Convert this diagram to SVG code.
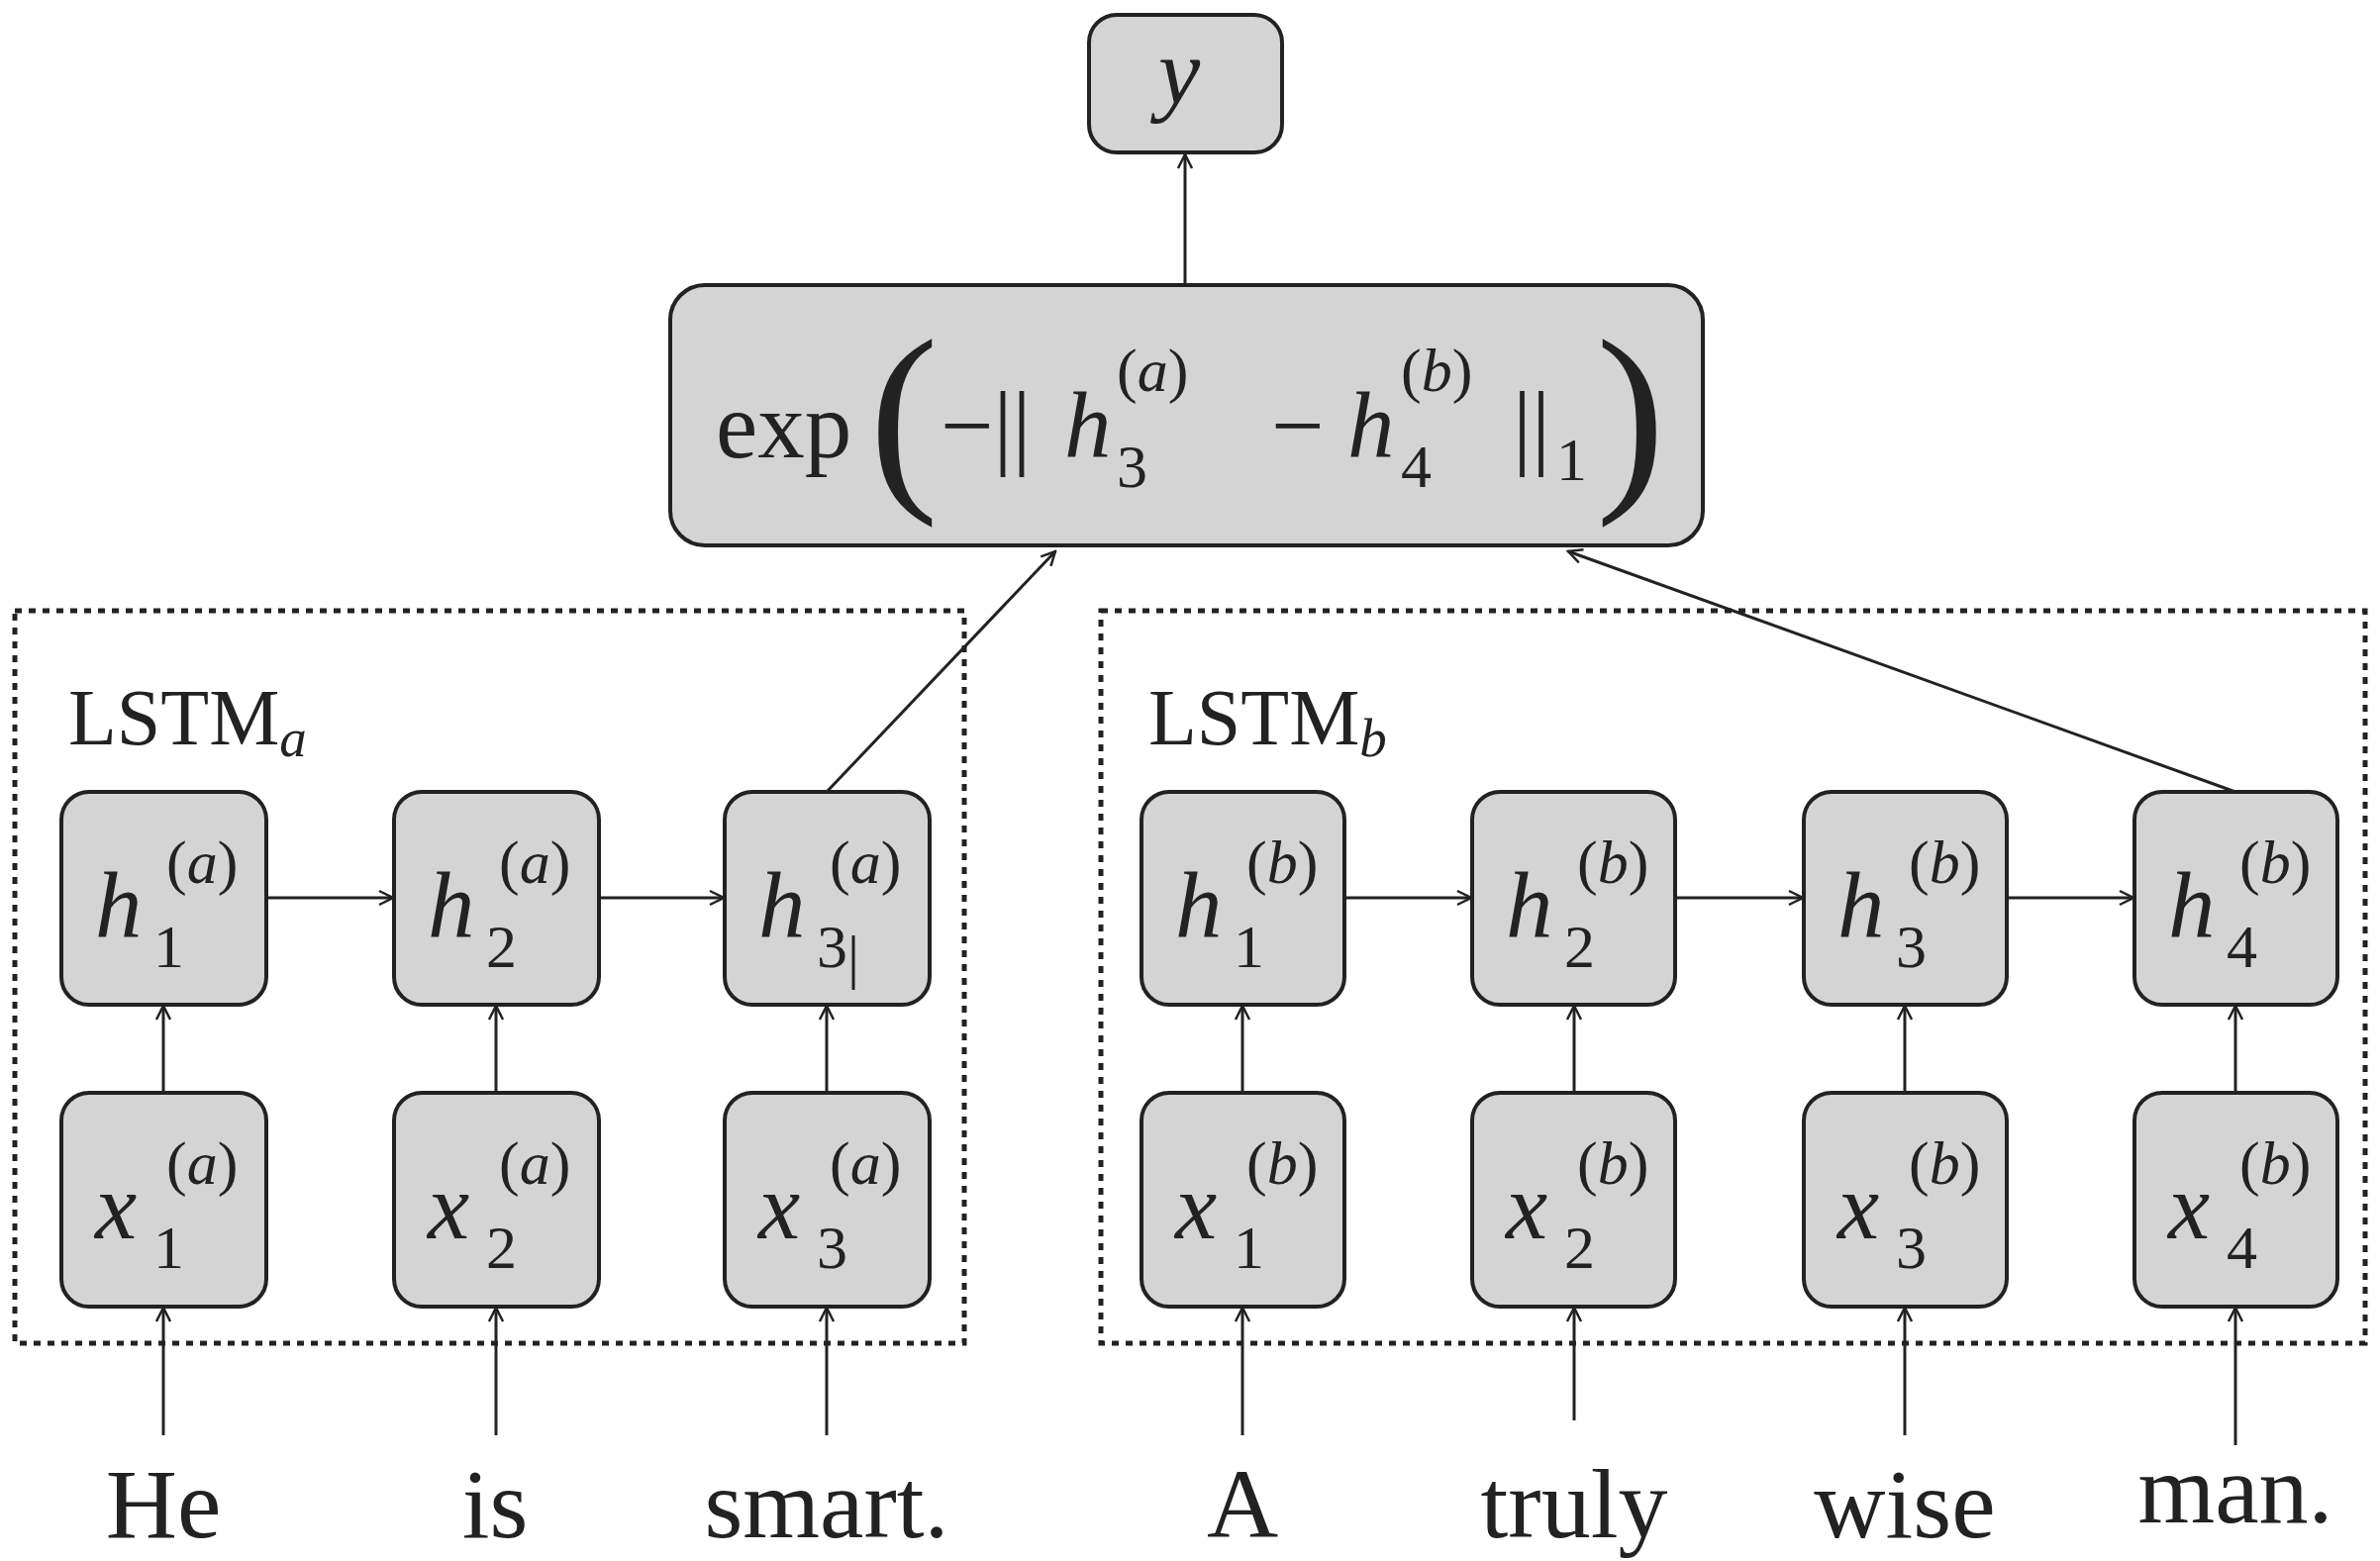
<svg xmlns="http://www.w3.org/2000/svg" width="2404" height="1577" viewBox="0 0 2404 1577">
<style>
.n{fill:#d4d4d4;stroke:#222;stroke-width:4}
.t{font-family:"Liberation Serif",serif;fill:#222}
.i{font-style:italic}
.c{stroke:#222;stroke-width:3;fill:none}
.d{fill:none;stroke:#222;stroke-width:5;stroke-dasharray:7,7}
</style>
<defs><marker id="a" markerWidth="20" markerHeight="20" refX="18" refY="10" orient="auto" markerUnits="userSpaceOnUse"><path d="M4,3 L18,10 L4,17" fill="none" stroke="#222" stroke-width="2.5"/></marker></defs>
<rect width="2404" height="1577" fill="#fff"/>
<g id="boxes"><rect class="d" x="15" y="617" width="959" height="740"/><rect class="d" x="1112" y="617" width="1277" height="740"/>
<text class="t" x="69" y="752" font-size="80">LSTM<tspan class="i" font-size="55" dy="12">a</tspan></text>
<text class="t" x="1160" y="752" font-size="80">LSTM<tspan class="i" font-size="55" dy="12">b</tspan></text></g>
<g id="y"><rect class="n" x="1100" y="15" width="195" height="139" rx="28"/><text class="t i" x="1170" y="105" font-size="95">y</text></g>
<g id="exp"><rect class="n" x="677" y="288" width="1043" height="263" rx="35"/>
<text class="t" font-size="95" y="462"><tspan x="723">exp</tspan></text>
<text class="t" font-size="210" x="878" y="488">(</text>
<text class="t" font-size="95" x="950" y="462">−||</text>
<text class="t i" font-size="95" x="1075" y="462">h</text>
<text class="t" font-size="62" x="1128" y="395">(<tspan class="i">a</tspan>)</text>
<text class="t" font-size="62" x="1128" y="492">3</text>
<text class="t" font-size="95" x="1284" y="462">−</text>
<text class="t i" font-size="95" x="1361" y="462">h</text>
<text class="t" font-size="62" x="1415" y="395">(<tspan class="i">b</tspan>)</text>
<text class="t" font-size="62" x="1415" y="492">4</text>
<text class="t" font-size="95" x="1528" y="462">||</text>
<text class="t" font-size="62" x="1572" y="485">1</text>
<text class="t" font-size="210" x="1612" y="488">)</text></g>
<g id="nodes">
<g id="h1a"><rect class="n" x="62" y="800" width="207" height="215" rx="28"/><text class="t i" x="96" y="947" font-size="95">h</text><text class="t" x="168" y="892" font-size="62">(<tspan class="i">a</tspan>)</text><text class="t" x="155" y="977" font-size="62">1</text></g>
<g id="h2a"><rect class="n" x="398" y="800" width="207" height="215" rx="28"/><text class="t i" x="432" y="947" font-size="95">h</text><text class="t" x="504" y="892" font-size="62">(<tspan class="i">a</tspan>)</text><text class="t" x="491" y="977" font-size="62">2</text></g>
<g id="h3a"><rect class="n" x="732" y="800" width="207" height="215" rx="28"/><text class="t i" x="766" y="947" font-size="95">h</text><text class="t" x="838" y="892" font-size="62">(<tspan class="i">a</tspan>)</text><text class="t" x="825" y="977" font-size="62">3</text><line x1="862" y1="945" x2="862" y2="1000" stroke="#222" stroke-width="3"/></g>
<g id="x1a"><rect class="n" x="62" y="1104" width="207" height="216" rx="28"/><text class="t i" x="96" y="1251" font-size="95">x</text><text class="t" x="168" y="1196" font-size="62">(<tspan class="i">a</tspan>)</text><text class="t" x="155" y="1281" font-size="62">1</text></g>
<g id="x2a"><rect class="n" x="398" y="1104" width="207" height="216" rx="28"/><text class="t i" x="432" y="1251" font-size="95">x</text><text class="t" x="504" y="1196" font-size="62">(<tspan class="i">a</tspan>)</text><text class="t" x="491" y="1281" font-size="62">2</text></g>
<g id="x3a"><rect class="n" x="732" y="1104" width="207" height="216" rx="28"/><text class="t i" x="766" y="1251" font-size="95">x</text><text class="t" x="838" y="1196" font-size="62">(<tspan class="i">a</tspan>)</text><text class="t" x="825" y="1281" font-size="62">3</text></g>
<g id="h1b"><rect class="n" x="1153" y="800" width="205" height="215" rx="28"/><text class="t i" x="1187" y="947" font-size="95">h</text><text class="t" x="1259" y="892" font-size="62">(<tspan class="i">b</tspan>)</text><text class="t" x="1246" y="977" font-size="62">1</text></g>
<g id="h2b"><rect class="n" x="1487" y="800" width="205" height="215" rx="28"/><text class="t i" x="1521" y="947" font-size="95">h</text><text class="t" x="1593" y="892" font-size="62">(<tspan class="i">b</tspan>)</text><text class="t" x="1580" y="977" font-size="62">2</text></g>
<g id="h3b"><rect class="n" x="1822" y="800" width="205" height="215" rx="28"/><text class="t i" x="1856" y="947" font-size="95">h</text><text class="t" x="1928" y="892" font-size="62">(<tspan class="i">b</tspan>)</text><text class="t" x="1915" y="977" font-size="62">3</text></g>
<g id="h4b"><rect class="n" x="2156" y="800" width="205" height="215" rx="28"/><text class="t i" x="2190" y="947" font-size="95">h</text><text class="t" x="2262" y="892" font-size="62">(<tspan class="i">b</tspan>)</text><text class="t" x="2249" y="977" font-size="62">4</text></g>
<g id="x1b"><rect class="n" x="1153" y="1104" width="205" height="216" rx="28"/><text class="t i" x="1187" y="1251" font-size="95">x</text><text class="t" x="1259" y="1196" font-size="62">(<tspan class="i">b</tspan>)</text><text class="t" x="1246" y="1281" font-size="62">1</text></g>
<g id="x2b"><rect class="n" x="1487" y="1104" width="205" height="216" rx="28"/><text class="t i" x="1521" y="1251" font-size="95">x</text><text class="t" x="1593" y="1196" font-size="62">(<tspan class="i">b</tspan>)</text><text class="t" x="1580" y="1281" font-size="62">2</text></g>
<g id="x3b"><rect class="n" x="1822" y="1104" width="205" height="216" rx="28"/><text class="t i" x="1856" y="1251" font-size="95">x</text><text class="t" x="1928" y="1196" font-size="62">(<tspan class="i">b</tspan>)</text><text class="t" x="1915" y="1281" font-size="62">3</text></g>
<g id="x4b"><rect class="n" x="2156" y="1104" width="205" height="216" rx="28"/><text class="t i" x="2190" y="1251" font-size="95">x</text><text class="t" x="2262" y="1196" font-size="62">(<tspan class="i">b</tspan>)</text><text class="t" x="2249" y="1281" font-size="62">4</text></g>
</g>
<g id="words" class="t" font-size="100" text-anchor="middle">
<text x="165" y="1553">He</text><text x="500" y="1553">is</text><text x="835" y="1553">smart.</text>
<text x="1255" y="1553">A</text><text x="1590" y="1553">truly</text><text x="1924" y="1553">wise</text><text x="2258" y="1538">man.</text></g>
<g id="connectors" class="c" marker-end="url(#a)">
<line x1="1197" y1="288" x2="1197" y2="156"/>
<line x1="835" y1="800" x2="1066" y2="557"/>
<line x1="2258" y1="800" x2="1584" y2="557"/>
<line x1="269" y1="907" x2="397" y2="907"/><line x1="605" y1="907" x2="731" y2="907"/>
<line x1="1358" y1="907" x2="1486" y2="907"/><line x1="1692" y1="907" x2="1821" y2="907"/><line x1="2027" y1="907" x2="2155" y2="907"/>
<line x1="165" y1="1104" x2="165" y2="1016"/><line x1="501" y1="1104" x2="501" y2="1016"/><line x1="835" y1="1104" x2="835" y2="1016"/>
<line x1="1255" y1="1104" x2="1255" y2="1016"/><line x1="1590" y1="1104" x2="1590" y2="1016"/><line x1="1924" y1="1104" x2="1924" y2="1016"/><line x1="2258" y1="1104" x2="2258" y2="1016"/>
<line x1="165" y1="1450" x2="165" y2="1321"/><line x1="501" y1="1450" x2="501" y2="1321"/><line x1="835" y1="1450" x2="835" y2="1321"/>
<line x1="1255" y1="1450" x2="1255" y2="1321"/><line x1="1590" y1="1435" x2="1590" y2="1321"/><line x1="1924" y1="1450" x2="1924" y2="1321"/><line x1="2258" y1="1460" x2="2258" y2="1321"/>
</g>
</svg>
